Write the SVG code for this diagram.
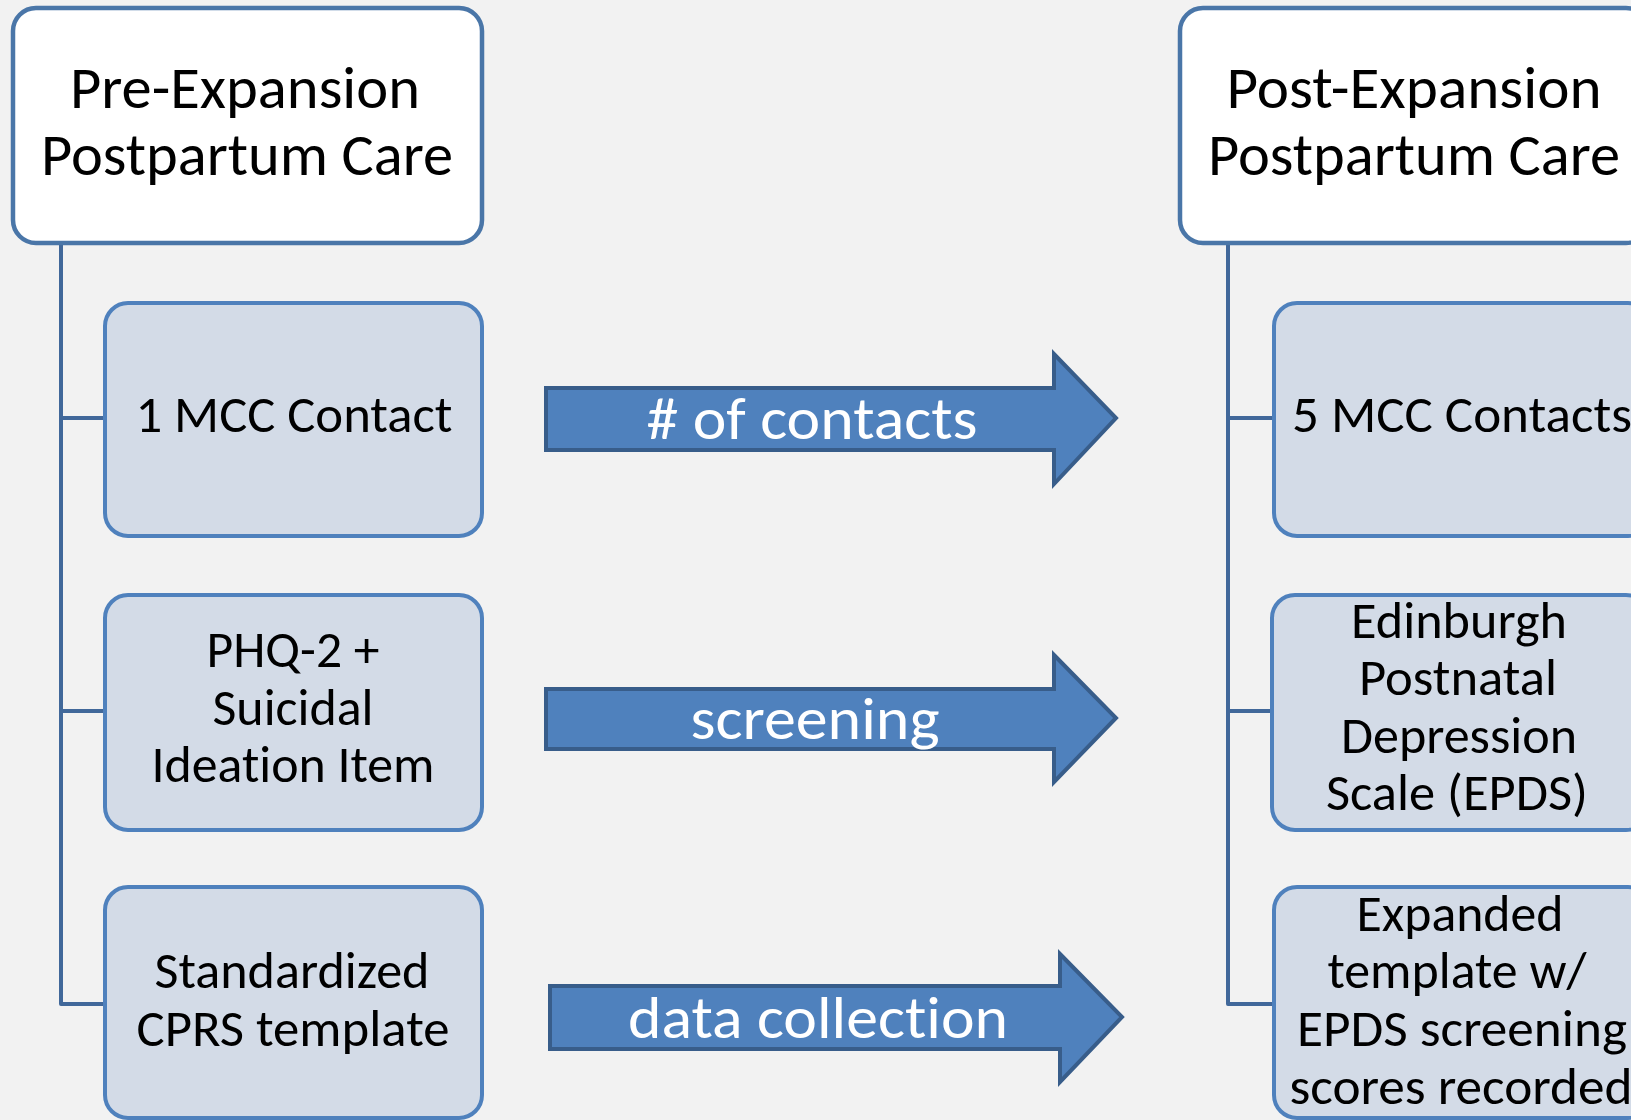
<svg xmlns="http://www.w3.org/2000/svg" width="1631" height="1120" viewBox="0 0 1631 1120">
  <style>
    text { font-family: Carlito, Lato, "Liberation Sans", sans-serif; text-anchor: middle; font-variant-ligatures: none; font-feature-settings: "liga" 0; }
    .head { fill: #ffffff; stroke: #4a76a8; stroke-width: 4.5; }
    .item { fill: #d3dbe7; stroke: #4f81bd; stroke-width: 4; }
    .head-t { font-size: 60px; fill: #000; }
    .item-t { font-size: 52px; fill: #000; }
    .link { fill: none; stroke: #41689a; stroke-width: 4; stroke-linejoin: round; }
    .arrow { fill: #4f81bd; stroke: #385d8a; stroke-width: 4; }
    .arrow-t { font-size: 60px; fill: #ffffff; }
  </style>
  <rect width="1631" height="1120" fill="#f2f2f2"/>

  <!-- tree connectors -->
  <g id="connectors">
    <path class="link" d="M61 243 V1004 H105 M61 418 H105 M61 711 H105"/>
    <path class="link" d="M1228 243 V1004 H1274 M1228 418 H1274 M1228 711 H1272"/>
  </g>

  <!-- left column -->
  <g id="pre-header">
    <rect class="head" x="13" y="8" width="469" height="235" rx="23"/>
    <text class="head-t" x="245" y="108" textLength="350" lengthAdjust="spacingAndGlyphs">Pre-Expansion</text>
    <text class="head-t" x="247" y="175" textLength="412" lengthAdjust="spacingAndGlyphs">Postpartum Care</text>
  </g>
  <g id="pre-contact">
    <rect class="item" x="105" y="303" width="377" height="233" rx="23"/>
    <text class="item-t" x="294" y="432" textLength="317" lengthAdjust="spacingAndGlyphs">1 MCC Contact</text>
  </g>
  <g id="pre-screening">
    <rect class="item" x="105" y="595" width="377" height="235" rx="23"/>
    <text class="item-t" x="293" y="667" textLength="173" lengthAdjust="spacingAndGlyphs">PHQ-2 +</text>
    <text class="item-t" x="293" y="725" textLength="161" lengthAdjust="spacingAndGlyphs">Suicidal</text>
    <text class="item-t" x="293" y="782" textLength="283" lengthAdjust="spacingAndGlyphs">Ideation Item</text>
  </g>
  <g id="pre-template">
    <rect class="item" x="105" y="887" width="377" height="231" rx="23"/>
    <text class="item-t" x="292" y="988" textLength="275" lengthAdjust="spacingAndGlyphs">Standardized</text>
    <text class="item-t" x="293" y="1046" textLength="313" lengthAdjust="spacingAndGlyphs">CPRS template</text>
  </g>

  <!-- change arrows -->
  <g id="arrow-contacts">
    <path class="arrow" d="M546 388 H1054 V354 L1116 418 L1054 484 V450 H546 Z"/>
    <text class="arrow-t" x="812" y="439" textLength="331" lengthAdjust="spacingAndGlyphs"># of contacts</text>
  </g>
  <g id="arrow-screening">
    <path class="arrow" d="M546 689 H1054 V655 L1116 718 L1054 782 V749 H546 Z"/>
    <text class="arrow-t" x="815" y="739" textLength="249" lengthAdjust="spacingAndGlyphs">screening</text>
  </g>
  <g id="arrow-data">
    <path class="arrow" d="M550 986 H1060 V954 L1122 1017 L1060 1082 V1049 H550 Z"/>
    <text class="arrow-t" x="818" y="1038" textLength="380" lengthAdjust="spacingAndGlyphs">data collection</text>
  </g>

  <!-- right column -->
  <g id="post-header">
    <rect class="head" x="1180" y="8" width="469" height="235" rx="23"/>
    <text class="head-t" x="1414" y="108" textLength="375" lengthAdjust="spacingAndGlyphs">Post-Expansion</text>
    <text class="head-t" x="1414" y="175" textLength="412" lengthAdjust="spacingAndGlyphs">Postpartum Care</text>
  </g>
  <g id="post-contact">
    <rect class="item" x="1274" y="303" width="377" height="233" rx="23"/>
    <text class="item-t" x="1462" y="432" textLength="340" lengthAdjust="spacingAndGlyphs">5 MCC Contacts</text>
  </g>
  <g id="post-screening">
    <rect class="item" x="1272" y="595" width="377" height="235" rx="23"/>
    <text class="item-t" x="1459" y="638" textLength="216" lengthAdjust="spacingAndGlyphs">Edinburgh</text>
    <text class="item-t" x="1458" y="695" textLength="198" lengthAdjust="spacingAndGlyphs">Postnatal</text>
    <text class="item-t" x="1459" y="753" textLength="236" lengthAdjust="spacingAndGlyphs">Depression</text>
    <text class="item-t" x="1457" y="810" textLength="262" lengthAdjust="spacingAndGlyphs">Scale (EPDS)</text>
  </g>
  <g id="post-template">
    <rect class="item" x="1274" y="887" width="377" height="231" rx="23"/>
    <text class="item-t" x="1460" y="931" textLength="207" lengthAdjust="spacingAndGlyphs">Expanded</text>
    <text class="item-t" x="1457" y="988" textLength="259" lengthAdjust="spacingAndGlyphs">template w/</text>
    <text class="item-t" x="1462" y="1046" textLength="330" lengthAdjust="spacingAndGlyphs">EPDS screening</text>
    <text class="item-t" x="1461" y="1104" textLength="343" lengthAdjust="spacingAndGlyphs">scores recorded</text>
  </g>
</svg>
